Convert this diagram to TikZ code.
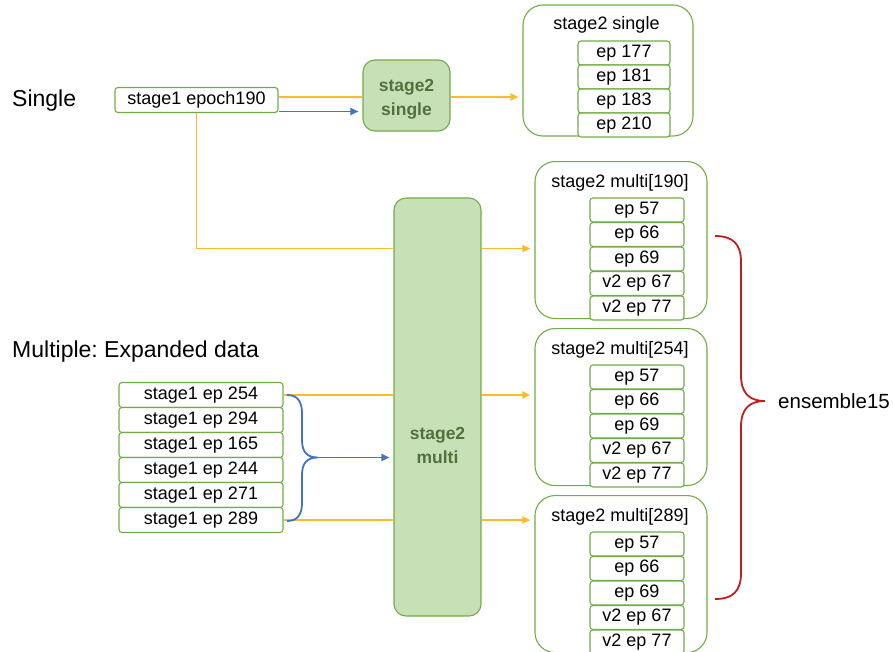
\documentclass[tikz,border=0pt]{standalone}
\usepackage{fontspec}
\setmainfont{Liberation Sans}
\usetikzlibrary{arrows.meta}

\definecolor{boxgreen}{RGB}{112,173,71}
\definecolor{fillgreen}{RGB}{200,224,182}
\definecolor{txtgreen}{RGB}{84,112,60}
\definecolor{lineorange}{RGB}{250,188,45}
\definecolor{lineblue}{RGB}{68,114,196}
\definecolor{linered}{RGB}{192,30,30}

\frenchspacing
\begin{document}
\begin{tikzpicture}[x=1pt, y=-1pt,
    every node/.style={font=\fontsize{18}{20}\selectfont, inner sep=0pt},
    epbox/.style={draw=boxgreen, line width=1.1pt, rounded corners=3pt, fill=white, minimum height=24pt},
    groupbox/.style={draw=boxgreen, line width=1.1pt, rounded corners=20pt},
    stagebox/.style={draw=boxgreen, line width=1.1pt, fill=fillgreen, rounded corners=12pt, minimum width=87pt},
    stagetext/.style={font=\fontsize{17.5}{24}\selectfont\bfseries, text=txtgreen, align=center},
    heading/.style={anchor=west, font=\fontsize{23}{26}\selectfont},
    oline/.style={draw=lineorange, line width=1.8pt},
    oarrow/.style={oline, -{Triangle[length=8pt,width=7pt]}, shorten >=4pt},
    barrow/.style={draw=lineblue, line width=1.8pt, -{Triangle[length=8pt,width=7pt]}, shorten >=4pt},
    bracel/.style={line width=1.8pt},
    ]
    \useasboundingbox (0,0) rectangle (893,651);
    \def\mtop{49}
    \def\mstep{24.5}
    % headings
    \node[heading] (single) at (12,101) {Single};
    \node[heading] (multiple) at (12,352) {Multiple: Expanded data};
    % stage1 inputs
    \node[epbox, minimum width=163pt, minimum height=25pt] (e190) at (196.5,100) {stage1 epoch190};
    \foreach \ep [count=\i] in {254,294,165,244,271,289}
        \node[epbox, minimum width=164pt, minimum height=25pt] (s\ep) at (201,395+25*\i-25) {stage1 ep \ep};
    % stage2 models
    \node[stagebox, minimum height=71pt] (s2s) at (406.5,95.5) {};
    \node[stagetext] (s2stxt) at (406.5,99) {stage2\\single};
    \node[stagebox, minimum height=418pt] (multi) at (437.5,407) {};
    \node[stagetext] (multitxt) at (437.5,445) {stage2\\multi};
    % stage2 single results
    \node[groupbox, minimum width=170pt, minimum height=131pt] (gs) at (608,70.5) {};
    \node (ts) at (606.5,25) {stage2 single};
    \foreach \lab [count=\i] in {177,181,183,210}
        \node[epbox, minimum width=92pt] (ss\lab) at (624,29+24*\i) {ep \lab};
    % stage2 multi results
    \foreach \grp/\top in {190/161, 254/328, 289/495} {
        \node[groupbox, minimum width=172pt, minimum height=157pt, anchor=north] (g\grp) at (621,\top) {};
        \node (t\grp) at (620,\top+22) {stage2 multi[\grp]};
        \foreach \lab [count=\i] in {ep 57, ep 66, ep 69, v2 ep 67, v2 ep 77}
            \node[epbox, minimum width=94pt] (m\grp-\i) at (637,\top+\mtop+\mstep*\i-\mstep) {\lab};
    }
    % single path
    \draw[oline] ([yshift=3pt]e190.east) -- ([yshift=3pt]e190.east -| s2s.west);
    \draw[oarrow] ([yshift=3pt]e190.east -| s2s.east) -- ([yshift=3pt]e190.east -| gs.west);
    \draw[barrow] ([yshift=-11.5pt]e190.east) -- ([yshift=-11.5pt]e190.east -| s2s.west);
    % multi paths
    \coordinate (j190) at ([yshift=-8.5pt]g190.west);
    \draw[oline] (e190.south) |- (j190 -| multi.west);
    \draw[oarrow] (j190 -| multi.east) -- (j190);
    \foreach \ep/\grp in {254/254, 289/289} {
        \draw[oline] (s\ep.east) -- (s\ep.east -| multi.west);
        \draw[oarrow] (s\ep.east -| multi.east) -- (s\ep.east -| g\grp.west);
    }
    % blue brace
    \coordinate (btip) at (318,457.5);
    \draw[bracel, lineblue] (287,395) .. controls (297,395) and (302,401) .. (302,413) -- (302,440)
        .. controls (302,452) and (307,457.5) .. (btip) .. controls (307,457.5) and (302,463) .. (302,475) -- (302,503)
        .. controls (302,515) and (297,521) .. (287,521);
    \draw[barrow] (btip) -- (btip -| multi.west);
    % ensemble
    \coordinate (rtip) at (765,401);
    \draw[bracel, linered] (715,236) .. controls (733,236) and (741,244) .. (741,262) -- (741,375)
        .. controls (741,393) and (749,401) .. (rtip) .. controls (749,401) and (741,409) .. (741,427) -- (741,573)
        .. controls (741,591) and (733,599) .. (715,599);
    \node[anchor=west, font=\fontsize{20.5}{24}\selectfont] (ens) at (778,401) {ensemble15};
\end{tikzpicture}
\end{document}
